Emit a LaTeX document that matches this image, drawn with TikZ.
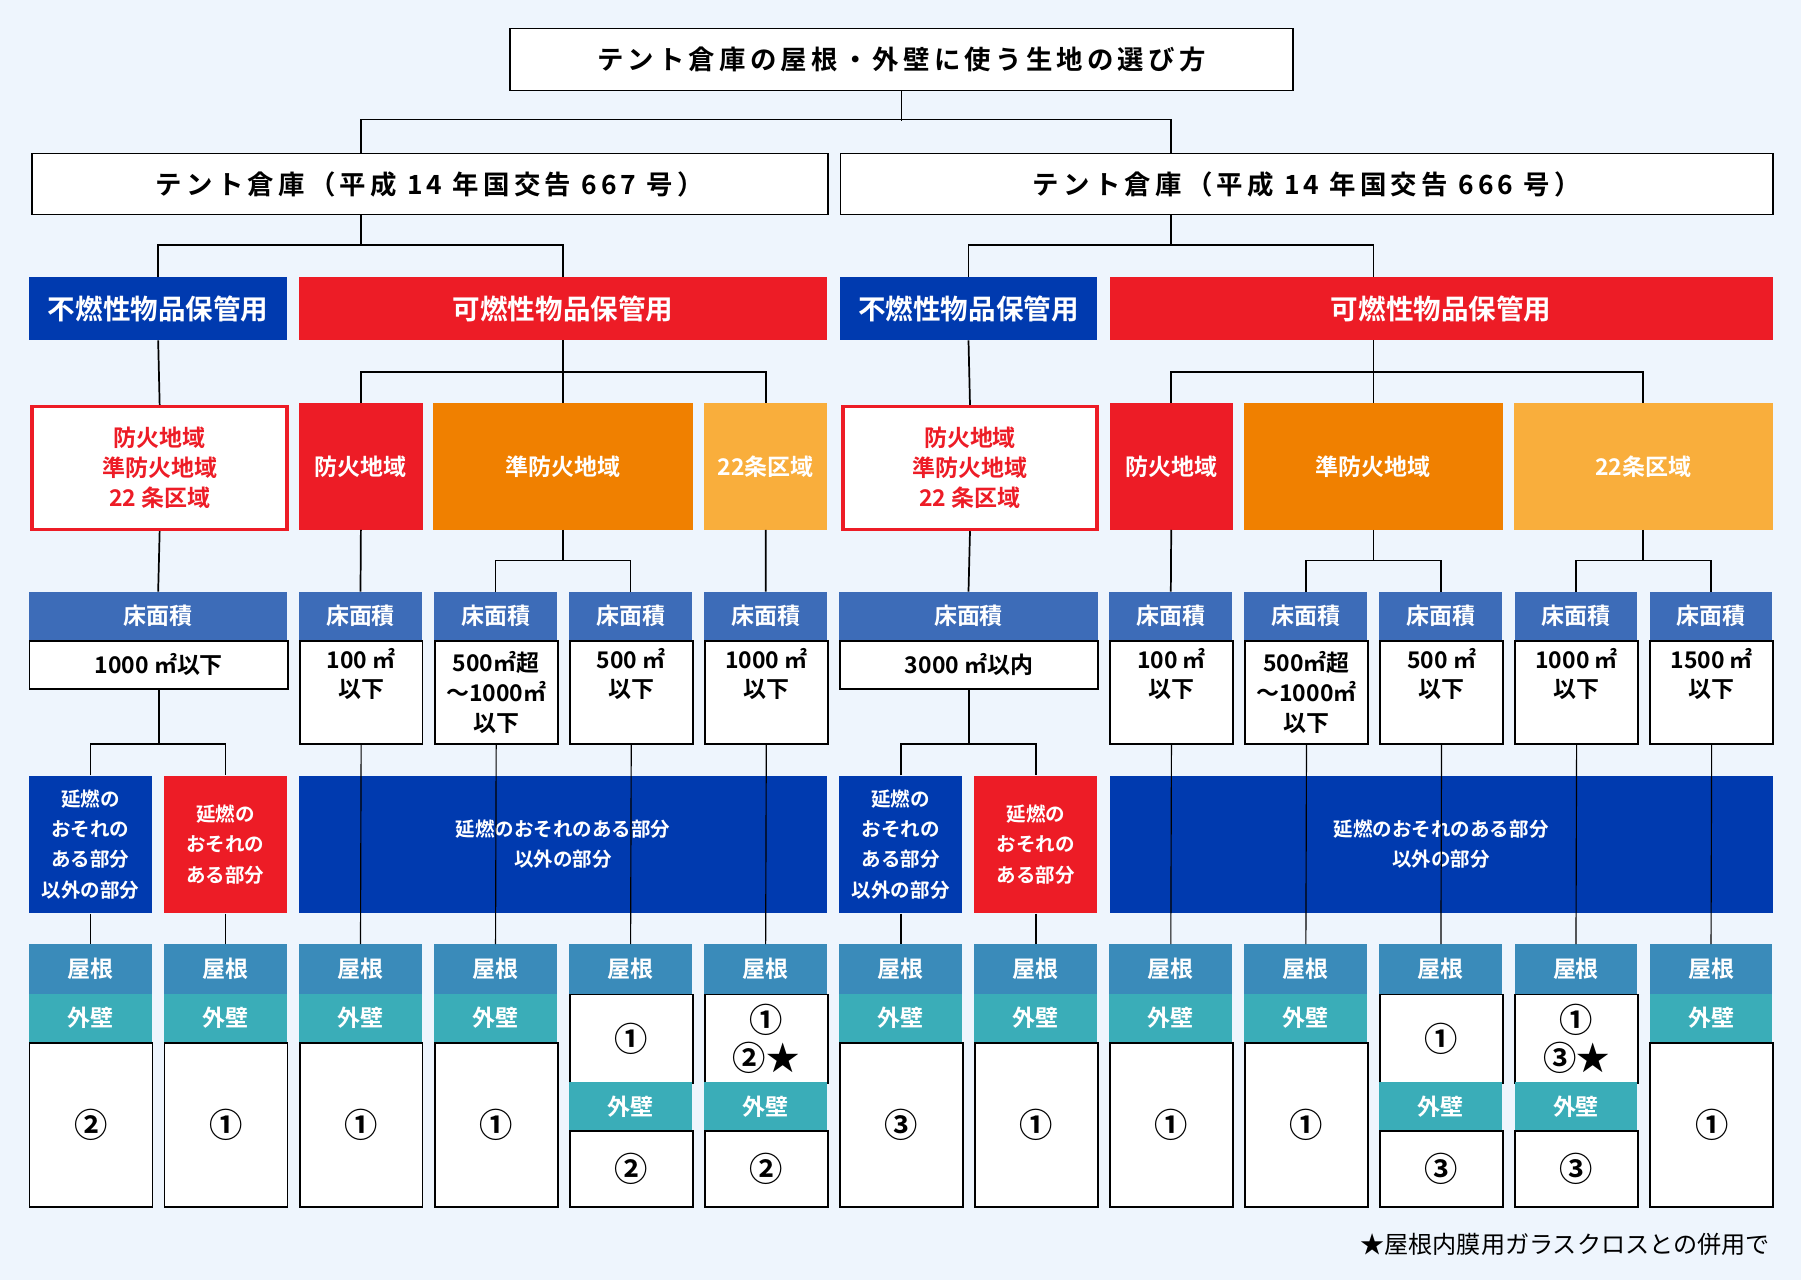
\documentclass[tikz,border=0pt]{standalone}
\usepackage{fontspec}
\setmainfont{Noto Sans CJK JP}[BoldFont={Noto Sans CJK JP Bold}]
\newfontfamily\spacedfont{Noto Sans CJK JP Bold}[LetterSpace=16]
\usetikzlibrary{calc}

\definecolor{bgblue}{HTML}{EEF5FD}
\definecolor{navy}{HTML}{003AAF}
\definecolor{firered}{HTML}{ED1C26}
\definecolor{deeporange}{HTML}{F08000}
\definecolor{lightorange}{HTML}{F9AE3C}
\definecolor{areablue}{HTML}{3D6CB8}
\definecolor{roofblue}{HTML}{3A8BBA}
\definecolor{wallteal}{HTML}{3AADB8}

\tikzset{
  box/.style={anchor=north west, inner sep=0pt, align=center, font=\bfseries},
  conn/.style={line width=1.5pt, black},
  framebox/.style={box, fill=white, draw=black, line width=1.5pt, font=\spacedfont\fontsize{23}{26}\selectfont},
  band/.style={box, text=white, minimum height=55pt, font=\bfseries\fontsize{24}{26}\selectfont},
  zone/.style={box, text=white, minimum height=110pt, font=\bfseries\fontsize{20}{26}\selectfont},
  zonewhite/.style={zone, fill=white, draw=firered, line width=3pt, text=firered},
  areahead/.style={box, fill=areablue, text=white, minimum height=42pt, font=\bfseries\fontsize{20}{26}\selectfont},
  areabody/.style={box, fill=white, draw=black, line width=1.5pt, font=\bfseries\fontsize{20}{26}\selectfont},
  spread/.style={box, text=white, minimum height=120pt, font=\bfseries\fontsize{17}{26.3}\selectfont},
  roofhead/.style={box, fill=roofblue, text=white, minimum width=107pt, minimum height=43pt, font=\bfseries\fontsize{20}{26}\selectfont},
  wallhead/.style={box, fill=wallteal, text=white, minimum width=107pt, minimum height=42pt, font=\bfseries\fontsize{20}{26}\selectfont},
  cellbody/.style={box, fill=white, draw=black, line width=1.5pt, minimum width=107pt, font=\bfseries\fontsize{29}{33}\selectfont},
}

\begin{document}
\begin{tikzpicture}[x=1pt,y=1pt]
\fill[bgblue] (0,0) rectangle (1568,-1114);
\useasboundingbox (0,0) rectangle (1568,-1114);

% title and the two notices
\node[framebox, minimum width=682pt, minimum height=54pt] (title) at (443,-24) {テント倉庫の屋根・外壁に使う生地の選び方};
\node[framebox, minimum width=693pt, minimum height=53pt] (law667) at (27,-133) {テント倉庫（平成 14 年国交告 667 号）};
\node[framebox, minimum width=812pt, minimum height=53pt] (law666) at (731,-133) {テント倉庫（平成 14 年国交告 666 号）};

% goods kept
\node[band, fill=navy, minimum width=225pt] (nonflam1) at (25,-241) {不燃性物品保管用};
\node[band, fill=firered, minimum width=460pt] (flam1) at (260,-241) {可燃性物品保管用};
\node[band, fill=navy, minimum width=224pt] (nonflam2) at (731,-241) {不燃性物品保管用};
\node[band, fill=firered, minimum width=577pt] (flam2) at (966,-241) {可燃性物品保管用};

% zones
\node[zonewhite, minimum width=222pt, minimum height=107pt] (zoneall1) at (26.5,-352.5) {防火地域\\準防火地域\\22 条区域};
\node[zone, fill=firered, minimum width=108pt] (fire1) at (260,-351) {防火地域};
\node[zone, fill=deeporange, minimum width=226pt] (semi1) at (377,-351) {準防火地域};
\node[zone, fill=lightorange, minimum width=107pt] (art1) at (613,-351) {22条区域};
\node[zonewhite, minimum width=221pt, minimum height=107pt] (zoneall2) at (732.5,-352.5) {防火地域\\準防火地域\\22 条区域};
\node[zone, fill=firered, minimum width=107pt] (fire2) at (966,-351) {防火地域};
\node[zone, fill=deeporange, minimum width=225pt] (semi2) at (1083,-351) {準防火地域};
\node[zone, fill=lightorange, minimum width=225pt] (art2) at (1318,-351) {22条区域};

% floor areas
\node[areahead, minimum width=225pt] (ah1) at (25,-515) {床面積};
\node[areabody, minimum width=225pt, minimum height=42pt] (ab1) at (25,-557) {1000 ㎡以下};
\node[areahead, minimum width=225pt] (ah7) at (730.5,-515) {床面積};
\node[areabody, minimum width=225pt, minimum height=42pt] (ab7) at (730.5,-557) {3000 ㎡以内};
\foreach \i/\t in {3/{100 ㎡\\以下\\\strut}, 4/{500㎡超\\～1000㎡\\以下}, 5/{500 ㎡\\以下\\\strut},
  6/{1000 ㎡\\以下\\\strut}, 9/{100 ㎡\\以下\\\strut}, 10/{500㎡超\\～1000㎡\\以下},
  11/{500 ㎡\\以下\\\strut}, 12/{1000 ㎡\\以下\\\strut}, 13/{1500 ㎡\\以下\\\strut}}{
  \pgfmathsetmacro\cx{25+117.58*(\i-1)}
  \node[areahead, minimum width=107pt] (ah\i) at (\cx,-515) {床面積};
  \node[areabody, minimum width=107pt, minimum height=90pt] (ab\i) at (\cx,-557) {\t};
}

% spread of fire
\node[spread, fill=navy, minimum width=107pt] (spread1) at (25,-675) {延燃の\\おそれの\\ある部分\\以外の部分};
\node[spread, fill=firered, minimum width=107pt] (spread2) at (142.6,-675) {延燃の\\おそれの\\ある部分};
\node[spread, fill=navy, minimum width=460pt] (spread3) at (260,-675) {延燃のおそれのある部分\\以外の部分};
\node[spread, fill=navy, minimum width=107pt] (spread4) at (730.5,-675) {延燃の\\おそれの\\ある部分\\以外の部分};
\node[spread, fill=firered, minimum width=107pt] (spread5) at (848.1,-675) {延燃の\\おそれの\\ある部分};
\node[spread, fill=navy, minimum width=577pt] (spread6) at (966,-675) {延燃のおそれのある部分\\以外の部分};

% roof and wall
\foreach \i/\v in {1/②,2/①,3/①,4/①,7/③,8/①,9/①,10/①,13/①}{
  \pgfmathsetmacro\cx{25+117.58*(\i-1)}
  \node[cellbody, minimum height=143pt] (cell\i) at (\cx,-907) {\v};
  \node[roofhead] (roof\i) at (\cx,-822) {屋根};
  \node[wallhead] (wall\i) at (\cx,-865) {外壁};
}
\foreach \i/\r/\w in {5/①/②, 6/{①\\②★}/②, 11/①/③, 12/{①\\③★}/③}{
  \pgfmathsetmacro\cx{25+117.58*(\i-1)}
  \node[cellbody, minimum height=77pt] (roofcell\i) at (\cx,-865) {\r};
  \node[cellbody, minimum height=66pt] (wallcell\i) at (\cx,-984) {\w};
  \node[roofhead] (roof\i) at (\cx,-822) {屋根};
  \node[wallhead] (wall\i) at (\cx,-942) {外壁};
}

\node[anchor=east, inner sep=0pt, font=\fontsize{21}{24}\selectfont] (note) at (1541,-1083) {★屋根内膜用ガラスクロスとの併用で};

% connectors
\draw[conn] (title.south) -- ++(0,-26);
\draw[conn] (law667.north -| fire1.north) -- ++(0,29) -| (law666.north -| fire2.north);
\draw[conn] (law667.south -| fire1.north) -- ++(0,-27);
\draw[conn] (nonflam1.north) -- ++(0,28) -| (flam1.north);
\draw[conn] (law666.south -| fire2.north) -- ++(0,-27);
\draw[conn] (nonflam2.north) -- ++(0,28) -| (flam2.north -| semi2.north);

\draw[conn] (nonflam1.south) -- (zoneall1.north);
\draw[conn] (flam1.south) -- (semi1.north);
\draw[conn] (fire1.north) -- ++(0,27) -| (art1.north);
\draw[conn] (nonflam2.south) -- (zoneall2.north);
\draw[conn] (flam2.south -| semi2.north) -- (semi2.north);
\draw[conn] (fire2.north) -- ++(0,27) -| (art2.north);

\draw[conn] (zoneall1.south) -- (ah1.north);
\draw[conn] (fire1.south) -- (ah3.north);
\draw[conn] (ah4.north) -- ++(0,27) -| (ah5.north);
\draw[conn] (semi1.south) -- ($(semi1.south |- ah4.north)+(0,27)$);
\draw[conn] (art1.south) -- (ah6.north);
\draw[conn] (zoneall2.south) -- (ah7.north);
\draw[conn] (fire2.south) -- (ah9.north);
\draw[conn] (ah10.north) -- ++(0,27) -| (ah11.north);
\draw[conn] (semi2.south) -- ($(semi2.south |- ah10.north)+(0,27)$);
\draw[conn] (ah12.north) -- ++(0,27) -| (ah13.north);
\draw[conn] (art2.south) -- ($(art2.south |- ah12.north)+(0,27)$);

\draw[conn] (spread1.north) -- ++(0,27) -| (spread2.north);
\draw[conn] (ab1.south) -- ($(ab1.south |- spread1.north)+(0,27)$);
\draw[conn] (spread4.north) -- ++(0,27) -| (spread5.north);
\draw[conn] (ab7.south) -- ($(ab7.south |- spread4.north)+(0,27)$);
\foreach \s/\i in {1/1,2/2,4/7,5/8}
  \draw[conn] (spread\s.south -| roof\i.north) -- (roof\i.north);
\foreach \i in {3,4,5,6,9,10,11,12,13}
  \draw[conn, line width=1pt] (ab\i.south) -- (roof\i.north);
\end{tikzpicture}
\end{document}
